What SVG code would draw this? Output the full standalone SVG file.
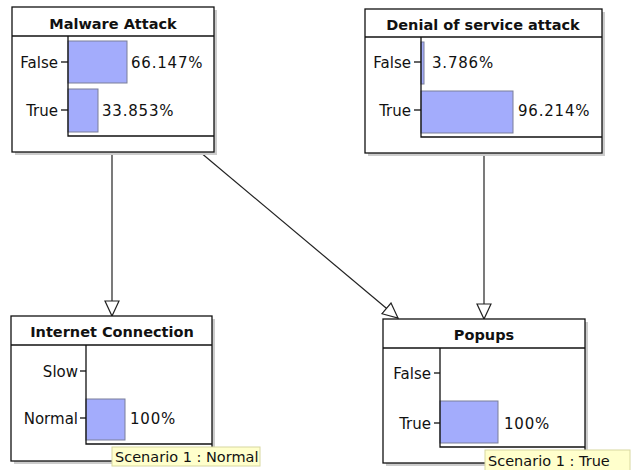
<svg xmlns="http://www.w3.org/2000/svg" width="631" height="470" viewBox="0 0 631 470">
<style>
.box{fill:#fff;stroke:#111;stroke-width:1.3}
.shadow{fill:#ccc}
.title{font-family:"DejaVu Sans",sans-serif;font-weight:bold;font-size:14.5px;fill:#111;text-anchor:middle}
.lbl{font-family:"DejaVu Sans",sans-serif;font-size:15px;fill:#111;text-anchor:end}
.pct{font-family:"DejaVu Sans",sans-serif;font-size:15px;fill:#111;letter-spacing:0.8px}
.bar{fill:#a3acfc;stroke:#7a7f99;stroke-width:1}
.axis{fill:none;stroke:#111;stroke-width:1.3}
.edge{fill:none;stroke:#222;stroke-width:1.2}
.tip{fill:#ffffcc;stroke:#d8d8a0;stroke-width:1}
.tiptext{font-family:"DejaVu Sans",sans-serif;font-size:14.5px;fill:#111}
</style>
<defs>
<marker id="arr" markerWidth="18" markerHeight="18" refX="16" refY="8" orient="auto" markerUnits="userSpaceOnUse">
<path d="M1,1 L16,8 L1,15 Z" fill="#fff" stroke="#222" stroke-width="1.2"/>
</marker>
</defs>
<g id="connectors">
<line class="edge" x1="112" y1="152" x2="112" y2="316" marker-end="url(#arr)"/>
<line class="edge" x1="200" y1="152" x2="398" y2="318" marker-end="url(#arr)"/>
<line class="edge" x1="484" y1="153" x2="484" y2="319" marker-end="url(#arr)"/>
</g>
<g id="node-malware">
<rect class="shadow" x="15" y="10" width="202" height="145"/>
<rect class="box" x="12" y="7" width="202" height="145"/>
<line class="axis" x1="12" y1="36" x2="214" y2="36"/>
<text class="title" x="113" y="29">Malware Attack</text>
<rect class="bar" x="68" y="41" width="59" height="42"/>
<rect class="bar" x="68" y="89" width="30" height="43"/>
<polyline class="axis" points="68,36 68,136 214,136"/>
<line class="axis" x1="61" y1="62" x2="68" y2="62"/>
<line class="axis" x1="61" y1="110" x2="68" y2="110"/>
<text class="lbl" x="58" y="68">False</text>
<text class="lbl" x="58" y="116">True</text>
<text class="pct" x="131" y="68">66.147%</text>
<text class="pct" x="102" y="116">33.853%</text>
</g>
<g id="node-dos">
<rect class="shadow" x="368" y="12" width="237" height="144"/>
<rect class="box" x="365" y="9" width="237" height="144"/>
<line class="axis" x1="365" y1="37" x2="602" y2="37"/>
<text class="title" x="483" y="30">Denial of service attack</text>
<rect class="bar" x="421" y="42" width="3" height="42"/>
<rect class="bar" x="421" y="91" width="92" height="42"/>
<polyline class="axis" points="421,37 421,137 602,137"/>
<line class="axis" x1="414" y1="62" x2="421" y2="62"/>
<line class="axis" x1="414" y1="110" x2="421" y2="110"/>
<text class="lbl" x="411" y="68">False</text>
<text class="lbl" x="411" y="116">True</text>
<text class="pct" x="432" y="68">3.786%</text>
<text class="pct" x="518" y="116">96.214%</text>
</g>
<g id="node-internet">
<rect class="shadow" x="14" y="319" width="201" height="145"/>
<rect class="box" x="11" y="316" width="201" height="145"/>
<line class="axis" x1="11" y1="345" x2="212" y2="345"/>
<text class="title" x="112" y="337">Internet Connection</text>
<rect class="bar" x="86" y="399" width="39" height="41"/>
<polyline class="axis" points="86,345 86,444 212,444"/>
<line class="axis" x1="80" y1="371" x2="86" y2="371"/>
<line class="axis" x1="80" y1="418" x2="86" y2="418"/>
<text class="lbl" x="78" y="377">Slow</text>
<text class="lbl" x="78" y="424">Normal</text>
<text class="pct" x="130" y="424">100%</text>
</g>
<g id="node-popups">
<rect class="shadow" x="386" y="322" width="202" height="144"/>
<rect class="box" x="383" y="319" width="202" height="144"/>
<line class="axis" x1="383" y1="348" x2="585" y2="348"/>
<text class="title" x="484" y="340">Popups</text>
<rect class="bar" x="440" y="401" width="58" height="42"/>
<polyline class="axis" points="440,348 440,447 585,447"/>
<line class="axis" x1="434" y1="373" x2="440" y2="373"/>
<line class="axis" x1="434" y1="423" x2="440" y2="423"/>
<text class="lbl" x="431" y="379">False</text>
<text class="lbl" x="431" y="429">True</text>
<text class="pct" x="504" y="429">100%</text>
</g>
<g id="tooltip-internet">
<rect class="tip" x="112" y="447" width="148" height="19"/>
<text class="tiptext" x="115" y="462">Scenario 1 : Normal</text>
</g>
<g id="tooltip-popups">
<rect class="tip" x="485" y="450" width="145" height="22"/>
<text class="tiptext" x="488" y="466">Scenario 1 : True</text>
</g>
</svg>
